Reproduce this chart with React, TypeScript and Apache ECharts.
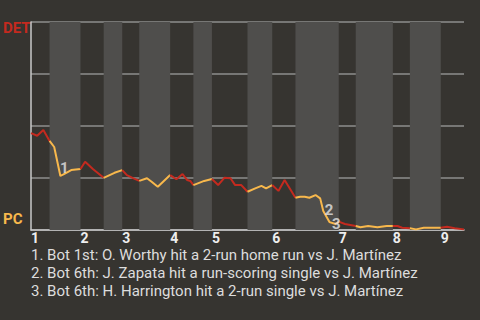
import React, { useEffect, useRef } from "react";
import * as echarts from "echarts";

// Team labels
const TEAM_TOP = "DET";
const TEAM_BOTTOM = "PC";

// Inning labels and where each inning starts (game progress, pitch count)
const INNING_LABELS = ["1", "2", "3", "4", "5", "6", "7", "8", "9"];
// Start of each half-inning (top halves at even index, bottom halves at odd index)
const HALF_STARTS = [0, 12, 32, 47, 59, 70, 90, 105, 117, 140, 156, 171, 199, 210, 234, 245, 265];
const GAME_END = 280;

// DET win probability (%) across the game
const WIN_PROB: [number, number][] = [
  [0, 46.6], [4, 45.3], [8, 48.1], [12, 42.8],
  [15, 39.9], [19, 26.0], [21, 26.7], [26, 28.8], [32, 29.3],
  [35, 32.8], [40, 29.3], [47, 25.1],
  [54, 27.5], [59, 28.8],
  [62, 26.4], [66, 24.9], [70, 23.6],
  [75, 24.9], [78, 23.2], [82, 20.8], [90, 26.4],
  [94, 24.4], [98, 26.9], [101, 24.0], [103, 23.6], [105, 21.6],
  [112, 23.6], [117, 24.5],
  [121, 21.6], [125, 25.1], [129, 24.9], [132, 21.6], [136, 21.6], [140, 18.4],
  [145, 20.0], [149, 21.2], [152, 20.0], [156, 21.6],
  [160, 18.8], [164, 24.0], [171, 15.5],
  [174, 16.0], [177, 16.0], [180, 15.5], [184, 16.8], [187, 15.2], [189, 9.1], [193, 3.8], [197, 2.9], [199, 4.0],
  [203, 2.9], [210, 1.9],
  [213, 1.3], [218, 1.9], [224, 1.3], [230, 1.9], [234, 1.9],
  [237, 1.9], [240, 1.1], [245, 0.8],
  [249, 0.3], [254, 1.1], [265, 1.1],
  [269, 1.6], [274, 0.8], [280, 0.3],
];

// Key events
const EVENT_IDS = ["1", "2", "3"];
const EVENT_POINTS: [number, number][] = [[19, 26.0], [189, 9.1], [193, 3.8]];
const EVENT_TEXT = [
  "1. Bot 1st: O. Worthy hit a 2-run home run vs J. Martínez",
  "2. Bot 6th: J. Zapata hit a run-scoring single vs J. Martínez",
  "3. Bot 6th: H. Harrington hit a 2-run single vs J. Martínez",
];

const RED = "#c42a1f";
const YELLOW = "#f8b84c";
const BG = "#363430";
const BAND = "#4f4e4c";
const FONT = "Roboto";

export default function App() {
  const ref = useRef<HTMLDivElement>(null);

  useEffect(() => {
    if (!ref.current) return;
    const chart = echarts.init(ref.current, undefined, { renderer: "svg" });

    const bounds = [...HALF_STARTS, GAME_END];
    const halfSeries: any[] = [];
    for (let i = 0; i < HALF_STARTS.length; i++) {
      const a = bounds[i];
      const b = bounds[i + 1];
      const pts = WIN_PROB.filter(([x]) => x >= a && x <= b);
      halfSeries.push({
        type: "line",
        data: pts,
        symbol: "none",
        lineStyle: { color: i % 2 === 0 ? RED : YELLOW, width: 2 },
        z: 3,
        silent: true,
      });
    }

    const bandAreas: any[] = [];
    for (let i = 1; i < HALF_STARTS.length; i += 2) {
      bandAreas.push([{ xAxis: bounds[i] }, { xAxis: bounds[i + 1] }]);
    }

    const inningStarts = HALF_STARTS.filter((_, i) => i % 2 === 0);

    const labelOffsets: [number, number][] = [[0, -15], [2, -8], [3, -5]];

    chart.setOption({
      animation: false,
      backgroundColor: BG,
      grid: { left: 31, right: 16, top: 22, bottom: 90 },
      xAxis: {
        type: "value",
        min: 0,
        max: GAME_END,
        splitLine: { show: false },
        axisTick: { show: false },
        axisLine: { show: true, onZero: false, lineStyle: { color: "#c8c8c8", width: 1.5 } },
        axisLabel: {
          customValues: inningStarts,
          formatter: (v: number) => {
            const idx = inningStarts.indexOf(v);
            return idx >= 0 ? INNING_LABELS[idx] : "";
          },
          align: "left",
          margin: 1,
          color: "#eeeeee",
          fontFamily: FONT,
          fontWeight: "bold",
          fontSize: 14,
        },
      },
      yAxis: {
        type: "value",
        min: 0,
        max: 100,
        interval: 25,
        axisLabel: { show: false },
        axisTick: { show: false },
        axisLine: { show: true, lineStyle: { color: "#c8c8c8", width: 1.5 } },
        splitLine: { show: true, lineStyle: { color: "#8e8e8c", width: 1.5 } },
      },
      series: [
        {
          type: "line",
          data: [],
          silent: true,
          markArea: {
            silent: true,
            itemStyle: { color: BAND },
            data: bandAreas,
          },
          z: 1,
        },
        ...halfSeries,
        {
          type: "scatter",
          symbolSize: 1,
          itemStyle: { color: "rgba(0,0,0,0)" },
          z: 5,
          data: EVENT_POINTS.map((p, i) => ({
            value: p,
            label: {
              show: true,
              formatter: EVENT_IDS[i],
              position: labelOffsets[i],
              color: "#e6e6e6",
              fontFamily: FONT,
              fontWeight: "bold",
              fontSize: 15,
            },
          })),
        },
      ],
      graphic: [
        {
          type: "text",
          left: 3,
          top: 20,
          style: { text: TEAM_TOP, fill: RED, font: `bold 15px ${FONT}` },
        },
        {
          type: "text",
          left: 3,
          top: 211,
          style: { text: TEAM_BOTTOM, fill: YELLOW, font: `bold 15px ${FONT}` },
        },
        {
          type: "text",
          left: 31,
          top: 246,
          style: {
            text: EVENT_TEXT.join("\n"),
            fill: "#dddddd",
            font: `15px ${FONT}`,
            lineHeight: 18,
          },
        },
      ],
    });

    return () => chart.dispose();
  }, []);

  return <div ref={ref} style={{ width: 480, height: 320, position: "fixed", left: 0, top: 0 }} />;
}
